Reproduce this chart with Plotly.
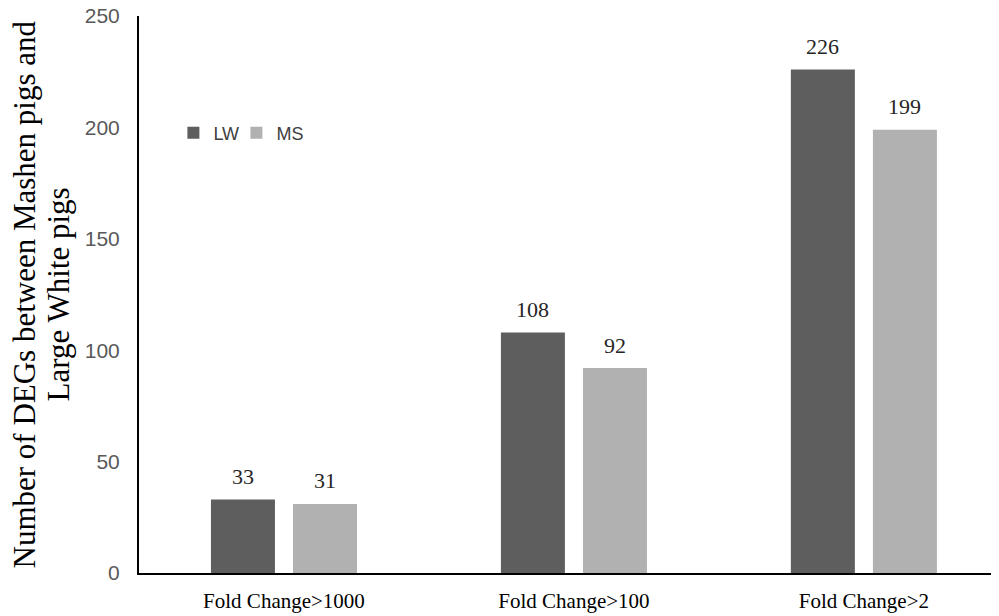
import plotly.graph_objects as go

categories = ["Fold Change>1000", "Fold Change>100", "Fold Change>2"]
lw_values = [33, 108, 226]
ms_values = [31, 92, 199]
y_ticks = [0, 50, 100, 150, 200, 250]
title_lines = ["Number of DEGs between Mashen pigs and", "Large White pigs"]

# the page body adds an 8px offset; size the figure so the plot area lands where the reference has it
fig = go.Figure()
fig.add_trace(go.Bar(name="LW", x=categories, y=lw_values, marker_color="#5e5e5e",
                     marker_line_width=0))
fig.add_trace(go.Bar(name="MS", x=categories, y=ms_values, marker_color="#b1b1b1",
                     marker_line_width=0))
# invisible legend spacer so the last visible entry is not clipped
fig.add_trace(go.Scatter(name=" ", x=[None], y=[None], mode="markers",
                         marker=dict(color="rgba(0,0,0,0)"), hoverinfo="skip"))

label_font = dict(family="Liberation Serif", size=22, color="#262626")
for vals, dx in ((lw_values, -41), (ms_values, 41)):
    for c, v in zip(categories, vals):
        fig.add_annotation(x=c, y=v, text=str(v), showarrow=False, xshift=dx, yshift=23,
                           yanchor="middle", xanchor="center", font=label_font)

title_font = dict(family="Liberation Serif", size=31, color="black")
for line, px in zip(title_lines, (24, 58)):
    fig.add_annotation(xref="paper", yref="paper", x=(px - 139) / 860, y=0.5,
                       text=line, textangle=-90, showarrow=False,
                       xanchor="center", yanchor="middle", font=title_font)

fig.update_layout(
    width=991, height=608,
    margin=dict(l=131, r=0, t=8, b=43),
    paper_bgcolor="white", plot_bgcolor="white",
    barmode="group", bargap=0.434, bargroupgap=0.22,
    showlegend=True,
    legend=dict(orientation="h", x=0.040, y=0.79, xanchor="left", yanchor="middle",
                entrywidth=18,
                font=dict(family="Liberation Sans", size=18, color="#404040"),
                bgcolor="rgba(0,0,0,0)"),
    xaxis=dict(
        range=[-0.5, 2.466], automargin=False,
        showline=True, linecolor="black", linewidth=2, ticks="",
        tickfont=dict(family="Liberation Serif", size=21, color="black"),
        ticklabelstandoff=8, showgrid=False, ticklabeloverflow="allow",
    ),
    yaxis=dict(
        range=[0, 250], tickvals=y_ticks, showline=True, linecolor="black", linewidth=2,
        ticks="", showgrid=False, zeroline=False, automargin=False,
        tickfont=dict(family="Liberation Sans", size=21, color="#595959"),
        ticklabelstandoff=13, ticklabeloverflow="allow",
    ),
)

fig.write_html("out.html")
